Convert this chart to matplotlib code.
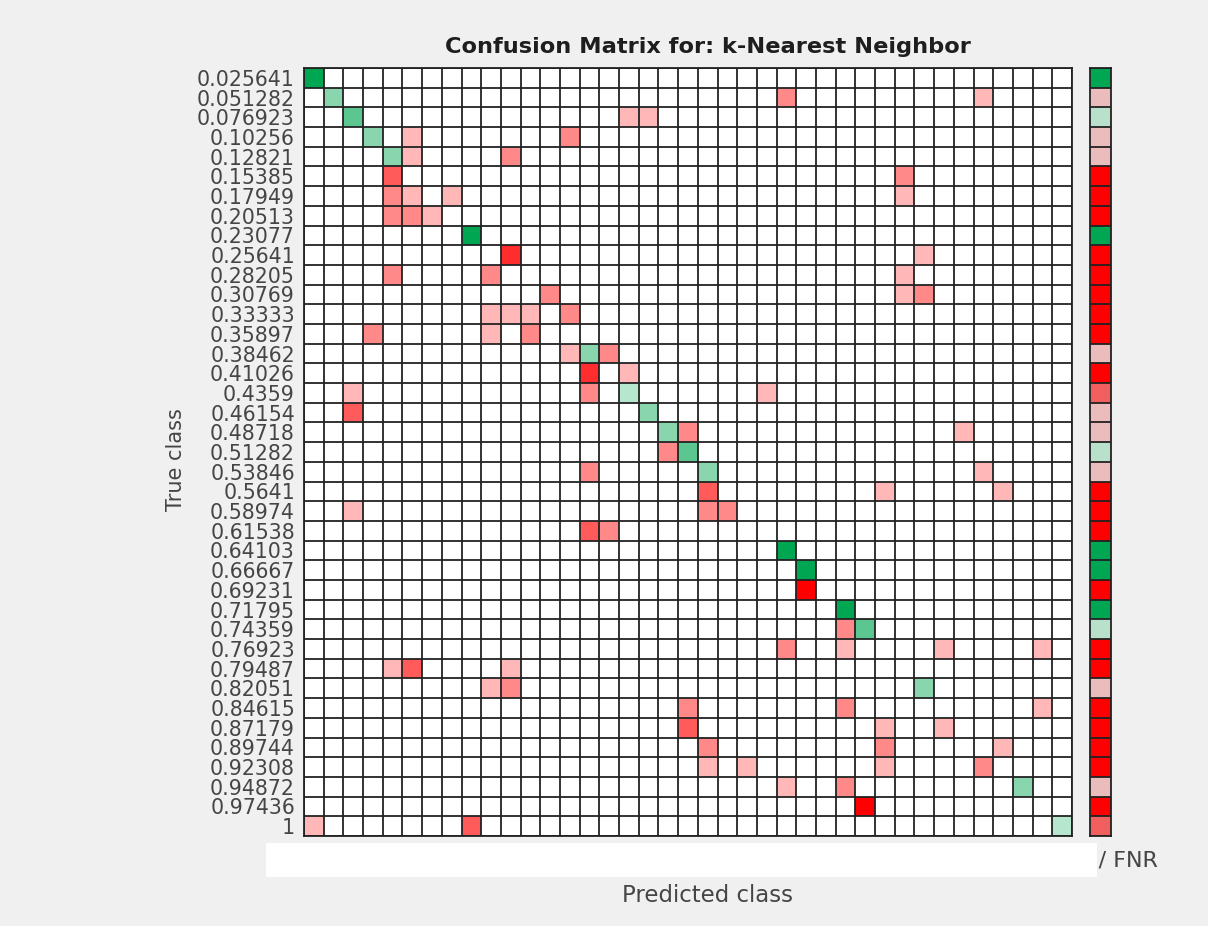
import numpy as np
import matplotlib
matplotlib.use("Agg")
import matplotlib.pyplot as plt
from matplotlib.colors import LinearSegmentedColormap, to_rgb
from matplotlib.patches import Rectangle

plt.rcParams["font.family"] = ["DejaVu Sans"]

# ---- data -----------------------------------------------------------------
class_labels = [
    "0.025641", "0.051282", "0.076923", "0.10256", "0.12821", "0.15385",
    "0.17949", "0.20513", "0.23077", "0.25641", "0.28205", "0.30769",
    "0.33333", "0.35897", "0.38462", "0.41026", "0.4359", "0.46154",
    "0.48718", "0.51282", "0.53846", "0.5641", "0.58974", "0.61538",
    "0.64103", "0.66667", "0.69231", "0.71795", "0.74359", "0.76923",
    "0.79487", "0.82051", "0.84615", "0.87179", "0.89744", "0.92308",
    "0.94872", "0.97436", "1",
]

# non-zero entries of the confusion matrix: (true index, predicted index, count)
true_idx = [
    0,
    1, 1, 1,
    2, 2, 2,
    3, 3, 3,
    4, 4, 4,
    5, 5,
    6, 6, 6, 6,
    7, 7, 7,
    8,
    9, 9,
    10, 10, 10,
    11, 11, 11,
    12, 12, 12, 12,
    13, 13, 13,
    14, 14, 14,
    15, 15,
    16, 16, 16, 16,
    17, 17,
    18, 18, 18,
    19, 19,
    20, 20, 20,
    21, 21, 21,
    22, 22, 22,
    23, 23,
    24,
    25,
    26,
    27,
    28, 28,
    29, 29, 29, 29,
    30, 30, 30,
    31, 31, 31,
    32, 32, 32,
    33, 33, 33,
    34, 34, 34,
    35, 35, 35, 35,
    36, 36, 36,
    37,
    38, 38, 38,
]
pred_idx = [
    0,
    1, 24, 34,
    2, 16, 17,
    3, 5, 13,
    4, 5, 10,
    4, 30,
    4, 5, 7, 30,
    4, 5, 6,
    8,
    10, 31,
    4, 9, 30,
    12, 30, 31,
    9, 10, 11, 13,
    3, 9, 11,
    13, 14, 15,
    14, 16,
    2, 14, 16, 23,
    2, 17,
    18, 19, 33,
    18, 19,
    14, 20, 34,
    20, 29, 35,
    2, 20, 21,
    14, 15,
    24,
    25,
    25,
    27,
    27, 28,
    24, 27, 32, 37,
    4, 5, 10,
    9, 10, 31,
    19, 27, 37,
    19, 29, 32,
    20, 29, 35,
    20, 22, 29, 34,
    24, 27, 36,
    28,
    0, 8, 38,
]
counts = [
    5,
    2, 2, 1,
    3, 1, 1,
    2, 1, 2,
    2, 1, 2,
    3, 2,
    2, 1, 1, 1,
    2, 2, 1,
    5,
    4, 1,
    2, 2, 1,
    2, 1, 2,
    1, 1, 1, 2,
    2, 1, 2,
    1, 2, 2,
    4, 1,
    1, 2, 1, 1,
    3, 2,
    2, 2, 1,
    2, 3,
    2, 2, 1,
    3, 1, 1,
    1, 2, 2,
    3, 2,
    5,
    5,
    5,
    5,
    2, 3,
    2, 1, 1, 1,
    1, 3, 1,
    1, 2, 2,
    2, 2, 1,
    3, 1, 1,
    2, 2, 1,
    1, 1, 1, 2,
    1, 2, 2,
    5,
    1, 3, 1,
]

n = len(class_labels)
cm = np.zeros((n, n), dtype=int)
for t, p, c in zip(true_idx, pred_idx, counts):
    cm[t, p] = c

# ---- colours --------------------------------------------------------------
GREEN = np.array(to_rgb("#00a651"))
RED = np.array(to_rgb("#ff0000"))
FIG_BG = "#f0f0f0"
LINE = "#222222"
TEXT = "#454545"

row_tot = cm.sum(axis=1)
vmax = row_tot.max()
rgb = np.ones((n, n, 3))
for i in range(n):
    for j in range(n):
        if cm[i, j] > 0:
            f = 0.1 + 0.9 * cm[i, j] / vmax
            base = GREEN if i == j else RED
            rgb[i, j] = 1 - (1 - base) * f

tpr = np.diag(cm) / row_tot
summary_cmap = LinearSegmentedColormap.from_list(
    "tpr_fnr",
    [(0.0, "#ff0000"), (0.2, "#f25f5f"), (0.4, "#ebbcbc"),
     (0.6, "#b8e0cb"), (1.0, "#00a651")],
)
summary_rgb = summary_cmap(tpr)[:, :3].reshape(n, 1, 3)

# ---- figure ---------------------------------------------------------------
W, H = 1208, 926
fig = plt.figure(figsize=(W / 100, H / 100), dpi=100, facecolor=FIG_BG)


def fig_box(x0, y0, x1, y1):
    return [x0 / W, 1 - y1 / H, (x1 - x0) / W, (y1 - y0) / H]


ax = fig.add_axes(fig_box(304, 68, 1072, 836))
ax.imshow(rgb, aspect="auto", interpolation="nearest",
          extent=(-0.5, n - 0.5, n - 0.5, -0.5))
for k in range(n + 1):
    ax.axhline(k - 0.5, color=LINE, lw=1.3, zorder=3)
    ax.axvline(k - 0.5, color=LINE, lw=1.3, zorder=3)
ax.set_xlim(-0.5, n - 0.5)
ax.set_ylim(n - 0.5, -0.5)
ax.set_xticks([])
ax.set_yticks(range(n))
ax.set_yticklabels(class_labels, fontsize=14.8, color=TEXT)
ax.tick_params(axis="y", length=0, pad=6.5)
for s in ax.spines.values():
    s.set_color(LINE)
    s.set_linewidth(1.3)

# row summary column
axs = fig.add_axes(fig_box(1090, 68, 1111, 836))
axs.imshow(summary_rgb, aspect="auto", interpolation="nearest",
           extent=(-0.5, 0.5, n - 0.5, -0.5))
for k in range(n + 1):
    axs.axhline(k - 0.5, color=LINE, lw=1.3, zorder=3)
axs.set_xlim(-0.5, 0.5)
axs.set_ylim(n - 0.5, -0.5)
axs.set_xticks([])
axs.set_yticks([])
for s in axs.spines.values():
    s.set_color(LINE)
    s.set_linewidth(1.3)

# texts
fig.text(708 / W, 1 - 47 / H, "Confusion Matrix for: k-Nearest Neighbor",
         ha="center", va="center", fontsize=16.2, fontweight="bold",
         color="#1e1e1e")
fig.text(176 / W, 1 - 460 / H, "True class", rotation=90,
         ha="center", va="center", fontsize=15, color=TEXT)
fig.text(708 / W, 1 - 896 / H, "Predicted class",
         ha="center", va="center", fontsize=16.5, color=TEXT)
fig.text(1158 / W, 1 - 860 / H, "TPR / FNR",
         ha="right", va="center", fontsize=16, color=TEXT)

# blank strip below the matrix
fig.patches.append(Rectangle((266 / W, 1 - 877 / H), (1097 - 266) / W,
                             (877 - 843) / H, transform=fig.transFigure,
                             facecolor="white", edgecolor="none", zorder=10))

fig.savefig("out.png", dpi=100, facecolor=FIG_BG)
